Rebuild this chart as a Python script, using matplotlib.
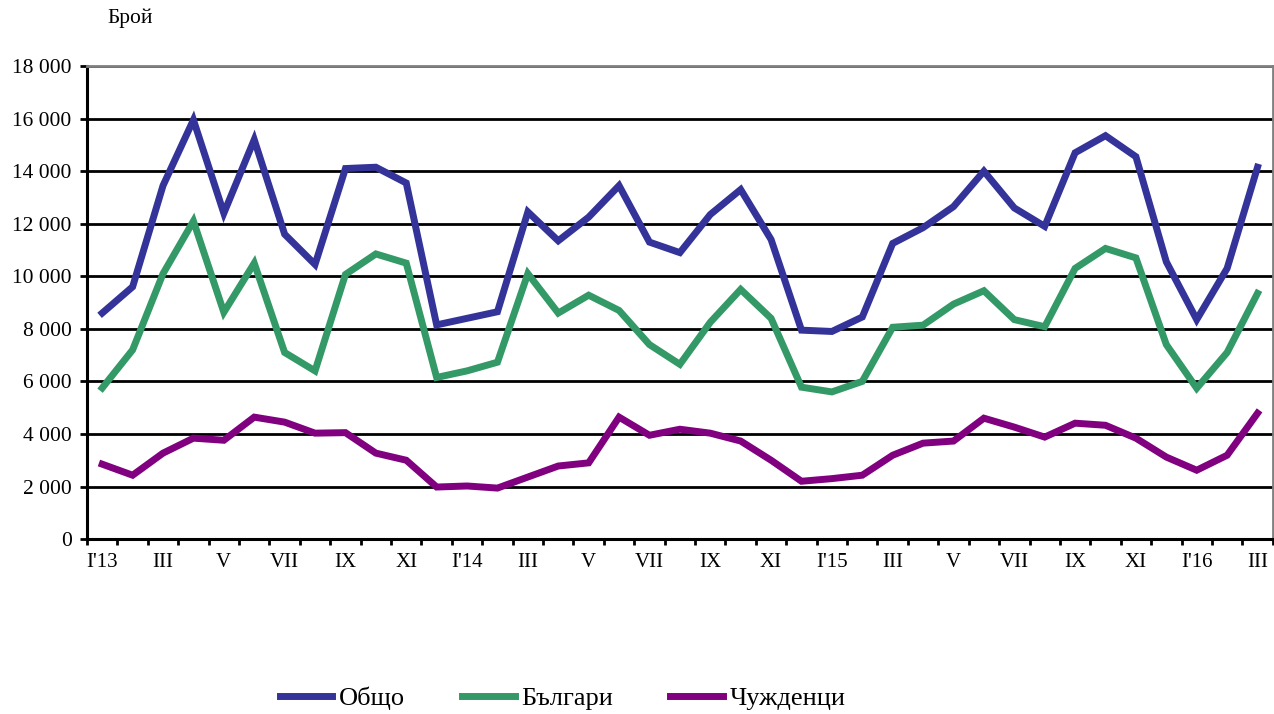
import matplotlib
matplotlib.use("Agg")
import matplotlib.pyplot as plt
import numpy as np

plt.rcParams['font.family'] = ['Liberation Serif', 'DejaVu Serif']

months = ["I'13", "II", "III", "IV", "V", "VI", "VII", "VIII", "IX", "X", "XI", "XII",
          "I'14", "II", "III", "IV", "V", "VI", "VII", "VIII", "IX", "X", "XI", "XII",
          "I'15", "II", "III", "IV", "V", "VI", "VII", "VIII", "IX", "X", "XI", "XII",
          "I'16", "II", "III"]

total = [8600, 9600, 13450, 15950, 12400, 15200, 11600, 10450, 14100, 14150, 13550, 8150,
         8400, 8650, 12450, 11350, 12250, 13450, 11300, 10900, 12350, 13300, 11400, 7950,
         7900, 8450, 11250, 11850, 12650, 14000, 12600, 11900, 14700, 15350, 14550, 10550,
         8350, 10300, 14150]
bulgarians = [5750, 7200, 10100, 12100, 8630, 10500, 7100, 6400, 10070, 10850, 10500, 6150,
              6400, 6730, 10100, 8600, 9280, 8700, 7400, 6650, 8250, 9500, 8400, 5780,
              5600, 6000, 8060, 8140, 8940, 9450, 8350, 8080, 10300, 11060, 10700, 7400,
              5740, 7100, 9350]
foreigners = [2850, 2430, 3270, 3840, 3760, 4640, 4450, 4030, 4050, 3270, 3000, 1980,
              2020, 1940, 2360, 2780, 2900, 4640, 3950, 4180, 4030, 3730, 3000, 2200,
              2300, 2430, 3190, 3650, 3730, 4600, 4260, 3880, 4410, 4330, 3840, 3120,
              2620, 3190, 4790]

series_names = ["Общо", "Българи", "Чужденци"]
colors = ["#333399", "#339966", "#800080"]
yticks = list(range(0, 18001, 2000))

fig = plt.figure(figsize=(12.74, 7.14), dpi=100)
ax = fig.add_axes([0.0683, 0.245, 0.9307, 0.6625])

x = np.arange(len(months))
for vals, name, c in zip([total, bulgarians, foreigners], series_names, colors):
    ax.plot(x, vals, color=c, lw=5, label=name, solid_joinstyle='miter', zorder=3)

ax.set_xlim(-0.5, len(months) - 0.5)
ax.set_ylim(0, 18000)
ax.set_yticks(yticks)
ax.set_yticklabels([f"{v:,}".replace(",", " ") for v in yticks], fontsize=15.5)
ax.yaxis.grid(True, color='black', lw=2)
ax.set_axisbelow(True)

# boundaries as ticks, labels at every 2nd category
ax.set_xticks(np.arange(len(months) + 1) - 0.5)
ax.set_xticklabels([])
ax.set_xticks(x[::2], minor=True)
ax.set_xticklabels([months[i] for i in x[::2]], minor=True, fontsize=15)
ax.tick_params(axis='x', which='major', length=4.5, width=2, direction='out')
ax.tick_params(axis='x', which='minor', length=0, pad=10)
ax.tick_params(axis='y', length=5, width=2, direction='out', pad=6)

for side in ['left', 'bottom']:
    ax.spines[side].set_color('black')
    ax.spines[side].set_linewidth(2.2)
for side in ['top', 'right']:
    ax.spines[side].set_color('#808080')
    ax.spines[side].set_linewidth(2)

fig.text(0.084, 0.975, "Брой", fontsize=15.5, ha='left', va='center')

fig.legend(loc='center', bbox_to_anchor=(0.4415, 0.022), ncol=3, frameon=False,
           fontsize=19, handlelength=2.0, handletextpad=0.25, columnspacing=2.15)

fig.savefig("out.png", dpi=100)
